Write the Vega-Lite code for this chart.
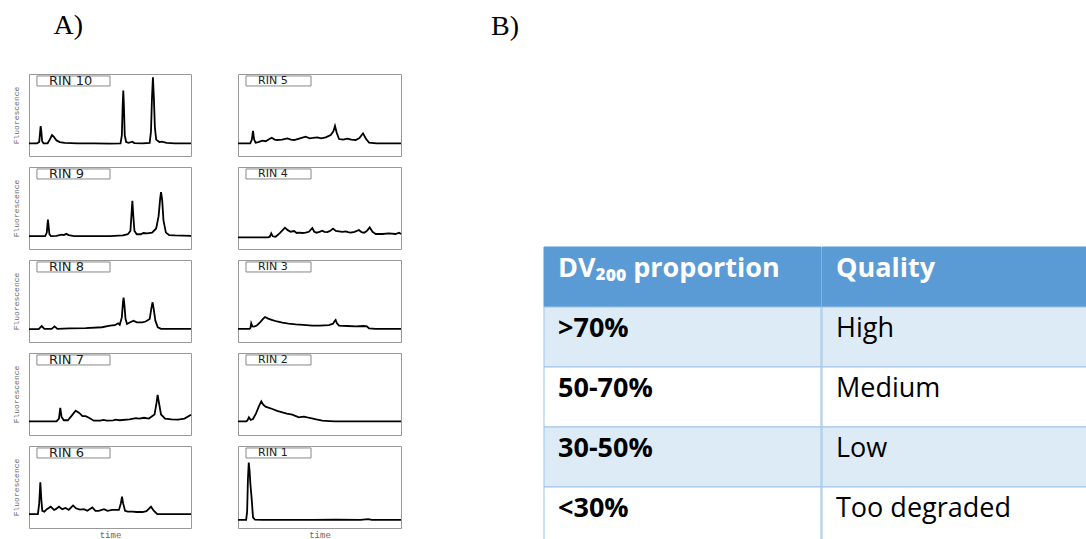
{
  "$schema": "https://vega.github.io/schema/vega-lite/v6.json",
  "background": "white",
  "padding": {"left": 11, "top": 12, "right": 0, "bottom": 0},
  "bounds": "full",
  "spacing": 85,
  "config": {
    "view": {"stroke": "#999999", "strokeWidth": 1},
    "axis": {"domain": false, "ticks": false, "labels": false, "grid": false, "titleFont": "Liberation Mono", "titleFontWeight": "normal", "titleColor": "#666666", "minExtent": 0},
    "axisLeft": {"titleFontSize": 8, "titlePadding": 9},
    "axisBottom": {"titleFontSize": 9, "titlePadding": 2},
    "line": {"color": "#000000", "strokeWidth": 1.8}
  },
  "datasets": {
    "rin10": [{"t":0,"f":15.5},{"t":5,"f":15.5},{"t":6.3,"f":17},{"t":6.9,"f":30},{"t":7.2,"f":36.6},{"t":7.6,"f":30},{"t":8.1,"f":18},{"t":9,"f":15.5},{"t":11.5,"f":15.5},{"t":12.8,"f":20},{"t":14.2,"f":25.5},{"t":15.5,"f":23},{"t":17,"f":19},{"t":19,"f":17},{"t":22,"f":16},{"t":30,"f":15.5},{"t":40,"f":15.5},{"t":50,"f":15.2},{"t":56.5,"f":15.5},{"t":57.3,"f":25},{"t":57.8,"f":60},{"t":58.2,"f":79.7},{"t":58.6,"f":60},{"t":59.1,"f":25},{"t":60,"f":17},{"t":61.5,"f":16},{"t":63.8,"f":17.5},{"t":65,"f":15.8},{"t":70,"f":15.5},{"t":74.5,"f":16},{"t":75.3,"f":30},{"t":75.9,"f":70},{"t":76.5,"f":96},{"t":77.1,"f":70},{"t":77.7,"f":35},{"t":78.5,"f":20},{"t":80.5,"f":17},{"t":82,"f":17.5},{"t":85,"f":16},{"t":90,"f":15.5},{"t":100,"f":15.5}],
    "rin9": [{"t":0,"f":15.8},{"t":10,"f":15.8},{"t":11,"f":20},{"t":11.4,"f":30},{"t":11.7,"f":36},{"t":12.1,"f":28},{"t":12.6,"f":18},{"t":13.5,"f":15.8},{"t":17,"f":16},{"t":20,"f":17.5},{"t":21.5,"f":17},{"t":23,"f":18.5},{"t":24.5,"f":17},{"t":28,"f":15.8},{"t":40,"f":15.8},{"t":50,"f":15.8},{"t":58,"f":16.5},{"t":61,"f":18},{"t":62.6,"f":22},{"t":63.2,"f":40},{"t":63.8,"f":58.9},{"t":64.4,"f":40},{"t":65.1,"f":22},{"t":66.5,"f":18},{"t":69,"f":18},{"t":70.6,"f":19.5},{"t":73,"f":19},{"t":76,"f":20},{"t":78.5,"f":25},{"t":80,"f":40},{"t":81,"f":62},{"t":81.5,"f":69.5},{"t":82.2,"f":60},{"t":83,"f":35},{"t":84.5,"f":20},{"t":86.5,"f":17},{"t":90,"f":16.5},{"t":100,"f":16}],
    "rin8": [{"t":0,"f":15.8},{"t":6,"f":15.8},{"t":7.8,"f":19.5},{"t":9.5,"f":16},{"t":14,"f":16},{"t":15.8,"f":19},{"t":17.5,"f":16},{"t":25,"f":16.5},{"t":35,"f":17},{"t":45,"f":18},{"t":50,"f":20},{"t":53,"f":20.5},{"t":55,"f":22.8},{"t":56,"f":21},{"t":57.3,"f":30},{"t":58,"f":48},{"t":58.4,"f":54},{"t":58.9,"f":45},{"t":59.6,"f":28},{"t":60.5,"f":22},{"t":62.5,"f":24},{"t":64.5,"f":26},{"t":66.5,"f":24},{"t":70,"f":24},{"t":72,"f":25},{"t":74.5,"f":28},{"t":75.6,"f":42},{"t":76.3,"f":48.4},{"t":77,"f":40},{"t":78,"f":26},{"t":79.5,"f":18},{"t":81.5,"f":16},{"t":90,"f":16},{"t":100,"f":16}],
    "rin7": [{"t":0,"f":16.7},{"t":10,"f":16.7},{"t":17,"f":16.7},{"t":18.5,"f":20},{"t":19.3,"f":33},{"t":20.1,"f":22},{"t":21.5,"f":18},{"t":24,"f":18},{"t":26.5,"f":24},{"t":28.8,"f":29.6},{"t":31,"f":27},{"t":33,"f":23},{"t":35,"f":23},{"t":37,"f":21},{"t":40,"f":17.5},{"t":44,"f":17.5},{"t":46,"f":18.5},{"t":48,"f":17.5},{"t":52,"f":17.8},{"t":53.5,"f":18.7},{"t":56,"f":18},{"t":62,"f":19},{"t":66,"f":20.5},{"t":68,"f":20},{"t":71,"f":21},{"t":74,"f":20},{"t":77.5,"f":25},{"t":78.8,"f":40},{"t":79.4,"f":49},{"t":80,"f":42},{"t":81.5,"f":25},{"t":84,"f":20},{"t":88,"f":19},{"t":92,"f":18.8},{"t":96,"f":20},{"t":100,"f":24.8}],
    "rin6": [{"t":0,"f":17},{"t":5.5,"f":17},{"t":6.3,"f":30},{"t":7,"f":55.7},{"t":7.6,"f":35},{"t":8.2,"f":21},{"t":9.5,"f":20},{"t":11,"f":23},{"t":13.4,"f":26},{"t":15.5,"f":22},{"t":16.5,"f":23},{"t":18.5,"f":26},{"t":20.5,"f":23},{"t":22.6,"f":24.5},{"t":24.5,"f":22},{"t":27.2,"f":27.5},{"t":29,"f":24},{"t":31.5,"f":22.5},{"t":33.9,"f":23},{"t":36,"f":21},{"t":39.1,"f":25},{"t":41,"f":21},{"t":43,"f":21},{"t":46.3,"f":23},{"t":48.5,"f":21},{"t":51.4,"f":22},{"t":55.5,"f":22},{"t":56.7,"f":30},{"t":57.4,"f":38.2},{"t":58.1,"f":30},{"t":59.3,"f":21},{"t":61,"f":20},{"t":63.8,"f":20},{"t":66.5,"f":19.5},{"t":70,"f":19.5},{"t":72.5,"f":20.5},{"t":75.3,"f":26},{"t":77,"f":21},{"t":79.2,"f":17},{"t":85,"f":17},{"t":100,"f":17}],
    "rin5": [{"t":0,"f":15.5},{"t":7.5,"f":15.5},{"t":8.5,"f":20},{"t":9.2,"f":30.5},{"t":9.9,"f":20},{"t":10.8,"f":16.3},{"t":12.5,"f":17},{"t":14.9,"f":18.7},{"t":17,"f":18},{"t":19,"f":20.5},{"t":20.7,"f":22.3},{"t":22.5,"f":20},{"t":24.1,"f":19.5},{"t":27,"f":20},{"t":30.3,"f":21.5},{"t":32.5,"f":20},{"t":34.4,"f":19.5},{"t":37,"f":21},{"t":39,"f":22},{"t":41.5,"f":23.6},{"t":44,"f":21.5},{"t":46,"f":22},{"t":48.7,"f":22.8},{"t":51,"f":21.5},{"t":53.8,"f":22.8},{"t":56.9,"f":25.6},{"t":58.5,"f":30},{"t":59.5,"f":36.6},{"t":60.6,"f":28},{"t":62,"f":20.7},{"t":64.5,"f":20},{"t":67.1,"f":21.1},{"t":69.5,"f":20},{"t":72.2,"f":19.5},{"t":74.5,"f":22},{"t":76.7,"f":27.7},{"t":78.5,"f":21},{"t":80.4,"f":16.3},{"t":85,"f":15.5},{"t":100,"f":15.5}],
    "rin4": [{"t":0,"f":14.2},{"t":18.5,"f":14.2},{"t":19.5,"f":15},{"t":20.4,"f":19.1},{"t":21.3,"f":15.5},{"t":23.1,"f":15},{"t":25.5,"f":19},{"t":28.8,"f":26},{"t":30.5,"f":23},{"t":32.3,"f":21.1},{"t":34.4,"f":21.9},{"t":36,"f":19.5},{"t":37.4,"f":19.9},{"t":39.5,"f":19.5},{"t":41.5,"f":19.9},{"t":43.5,"f":21},{"t":45.6,"f":25.6},{"t":46.8,"f":21},{"t":48.1,"f":19.9},{"t":50,"f":21},{"t":51.7,"f":22.4},{"t":53,"f":21},{"t":54.8,"f":20.7},{"t":56.5,"f":22},{"t":58.3,"f":24.8},{"t":60,"f":22},{"t":61.9,"f":21.5},{"t":64,"f":21},{"t":66,"f":21.5},{"t":67.5,"f":20.5},{"t":69.1,"f":19.9},{"t":71.5,"f":21},{"t":74.2,"f":23.2},{"t":75.8,"f":20.5},{"t":77.3,"f":19.9},{"t":79,"f":22},{"t":80.8,"f":26.4},{"t":82.5,"f":21},{"t":84.5,"f":18.3},{"t":88.6,"f":18.3},{"t":92.6,"f":19.1},{"t":96.7,"f":18.3},{"t":98.8,"f":19.9},{"t":100,"f":18.3}],
    "rin3": [{"t":0,"f":15.9},{"t":7,"f":15.9},{"t":7.6,"f":17},{"t":8.1,"f":22.8},{"t":8.8,"f":19},{"t":9.8,"f":18.7},{"t":11.5,"f":20},{"t":13.5,"f":24},{"t":15.5,"f":28.5},{"t":16.6,"f":30.5},{"t":18.5,"f":28.5},{"t":21.1,"f":26.8},{"t":24,"f":25},{"t":27.2,"f":23.6},{"t":31,"f":22.5},{"t":35.4,"f":21.5},{"t":40,"f":21},{"t":45.6,"f":19.9},{"t":50,"f":20},{"t":55.8,"f":20.7},{"t":58.3,"f":22.4},{"t":59.3,"f":25.5},{"t":59.9,"f":26.8},{"t":60.6,"f":23},{"t":62,"f":19.9},{"t":67,"f":19.5},{"t":72.2,"f":19.1},{"t":77.3,"f":19.5},{"t":79,"f":19},{"t":80.4,"f":16.7},{"t":84.5,"f":15.9},{"t":100,"f":15.9}],
    "rin2": [{"t":0,"f":16.7},{"t":5,"f":16.7},{"t":5.7,"f":17.5},{"t":6.7,"f":21.5},{"t":7.8,"f":18.3},{"t":9.2,"f":19.5},{"t":11,"f":26},{"t":12.8,"f":35},{"t":14.3,"f":41},{"t":15.5,"f":37},{"t":16.9,"f":34.6},{"t":21.1,"f":31.7},{"t":24,"f":29.5},{"t":27.2,"f":27.6},{"t":30,"f":26},{"t":33.3,"f":24.8},{"t":35.5,"f":23},{"t":37.4,"f":21.5},{"t":39,"f":22},{"t":40.5,"f":22.4},{"t":42.5,"f":21.5},{"t":44.6,"f":20.7},{"t":48,"f":19},{"t":51.7,"f":17.5},{"t":56,"f":17},{"t":59.9,"f":16.7},{"t":100,"f":16.7}],
    "rin1": [{"t":0,"f":9.8},{"t":5,"f":9.8},{"t":5.6,"f":20},{"t":6.1,"f":60},{"t":6.6,"f":79.7},{"t":7.1,"f":70},{"t":7.6,"f":53.7},{"t":8.2,"f":40},{"t":8.6,"f":30},{"t":9.2,"f":13},{"t":10.4,"f":10.2},{"t":15,"f":9.8},{"t":30,"f":10},{"t":45,"f":9.8},{"t":60,"f":10.2},{"t":75,"f":9.8},{"t":80,"f":10.8},{"t":82,"f":9.8},{"t":100,"f":10}],
    "dv200": [
      {"row": 0, "range": "DV₂₀₀ proportion", "quality": "Quality"},
      {"row": 1, "range": ">70%", "quality": "High"},
      {"row": 2, "range": "50-70%", "quality": "Medium"},
      {"row": 3, "range": "30-50%", "quality": "Low"},
      {"row": 4, "range": "<30%", "quality": "Too degraded"}
    ]
  },
  "hconcat": [
    {
      "title": {"text": "A)", "anchor": "start", "orient": "top", "baseline": "alphabetic", "offset": 11, "dx": 42, "font": "Liberation Serif", "fontSize": 28, "fontWeight": "normal", "color": "#000000"},
      "bounds": "full",
      "spacing": 37,
      "hconcat": [
        {
          "bounds": "full",
          "spacing": 9,
          "vconcat": [
            {"width": 162, "height": 82, "layer": [
              {"data": {"name": "rin10"}, "mark": {"type": "line"}, "encoding": {"x": {"field": "t", "type": "quantitative", "scale": {"domain": [0, 100]}, "axis": null}, "y": {"field": "f", "type": "quantitative", "scale": {"domain": [0, 100]}, "axis": {"title": "Fluorescence"}}}},
              {"data": {"values": [{"label": "RIN 10"}]}, "mark": {"type": "rect", "fill": "white", "stroke": "#888888", "strokeWidth": 1}, "encoding": {"x": {"datum": 4.9}, "x2": {"datum": 50}, "y": {"datum": 97.6}, "y2": {"datum": 85.4}}},
              {"data": {"values": [{"label": "RIN 10"}]}, "mark": {"type": "text", "align": "left", "baseline": "middle", "font": "DejaVu Sans", "fontSize": 13, "color": "#222222"}, "encoding": {"x": {"datum": 12.3}, "y": {"datum": 91.5}, "text": {"field": "label"}}}
            ]},
            {"width": 162, "height": 82, "layer": [
              {"data": {"name": "rin9"}, "mark": {"type": "line"}, "encoding": {"x": {"field": "t", "type": "quantitative", "scale": {"domain": [0, 100]}, "axis": null}, "y": {"field": "f", "type": "quantitative", "scale": {"domain": [0, 100]}, "axis": {"title": "Fluorescence"}}}},
              {"data": {"values": [{"label": "RIN 9"}]}, "mark": {"type": "rect", "fill": "white", "stroke": "#888888", "strokeWidth": 1}, "encoding": {"x": {"datum": 4.9}, "x2": {"datum": 50}, "y": {"datum": 97.6}, "y2": {"datum": 85.4}}},
              {"data": {"values": [{"label": "RIN 9"}]}, "mark": {"type": "text", "align": "left", "baseline": "middle", "font": "DejaVu Sans", "fontSize": 13, "color": "#222222"}, "encoding": {"x": {"datum": 12.3}, "y": {"datum": 91.5}, "text": {"field": "label"}}}
            ]},
            {"width": 162, "height": 82, "layer": [
              {"data": {"name": "rin8"}, "mark": {"type": "line"}, "encoding": {"x": {"field": "t", "type": "quantitative", "scale": {"domain": [0, 100]}, "axis": null}, "y": {"field": "f", "type": "quantitative", "scale": {"domain": [0, 100]}, "axis": {"title": "Fluorescence"}}}},
              {"data": {"values": [{"label": "RIN 8"}]}, "mark": {"type": "rect", "fill": "white", "stroke": "#888888", "strokeWidth": 1}, "encoding": {"x": {"datum": 4.9}, "x2": {"datum": 50}, "y": {"datum": 97.6}, "y2": {"datum": 85.4}}},
              {"data": {"values": [{"label": "RIN 8"}]}, "mark": {"type": "text", "align": "left", "baseline": "middle", "font": "DejaVu Sans", "fontSize": 13, "color": "#222222"}, "encoding": {"x": {"datum": 12.3}, "y": {"datum": 91.5}, "text": {"field": "label"}}}
            ]},
            {"width": 162, "height": 82, "layer": [
              {"data": {"name": "rin7"}, "mark": {"type": "line"}, "encoding": {"x": {"field": "t", "type": "quantitative", "scale": {"domain": [0, 100]}, "axis": null}, "y": {"field": "f", "type": "quantitative", "scale": {"domain": [0, 100]}, "axis": {"title": "Fluorescence"}}}},
              {"data": {"values": [{"label": "RIN 7"}]}, "mark": {"type": "rect", "fill": "white", "stroke": "#888888", "strokeWidth": 1}, "encoding": {"x": {"datum": 4.9}, "x2": {"datum": 50}, "y": {"datum": 97.6}, "y2": {"datum": 85.4}}},
              {"data": {"values": [{"label": "RIN 7"}]}, "mark": {"type": "text", "align": "left", "baseline": "middle", "font": "DejaVu Sans", "fontSize": 13, "color": "#222222"}, "encoding": {"x": {"datum": 12.3}, "y": {"datum": 91.5}, "text": {"field": "label"}}}
            ]},
            {"width": 162, "height": 82, "layer": [
              {"data": {"name": "rin6"}, "mark": {"type": "line"}, "encoding": {"x": {"field": "t", "type": "quantitative", "scale": {"domain": [0, 100]}, "axis": {"title": "time"}}, "y": {"field": "f", "type": "quantitative", "scale": {"domain": [0, 100]}, "axis": {"title": "Fluorescence"}}}},
              {"data": {"values": [{"label": "RIN 6"}]}, "mark": {"type": "rect", "fill": "white", "stroke": "#888888", "strokeWidth": 1}, "encoding": {"x": {"datum": 4.9}, "x2": {"datum": 50}, "y": {"datum": 97.6}, "y2": {"datum": 85.4}}},
              {"data": {"values": [{"label": "RIN 6"}]}, "mark": {"type": "text", "align": "left", "baseline": "middle", "font": "DejaVu Sans", "fontSize": 13, "color": "#222222"}, "encoding": {"x": {"datum": 12.3}, "y": {"datum": 91.5}, "text": {"field": "label"}}}
            ]}
          ]
        },
        {
          "bounds": "full",
          "spacing": 9,
          "vconcat": [
            {"width": 163, "height": 82, "layer": [
              {"data": {"name": "rin5"}, "mark": {"type": "line"}, "encoding": {"x": {"field": "t", "type": "quantitative", "scale": {"domain": [0, 100]}, "axis": null}, "y": {"field": "f", "type": "quantitative", "scale": {"domain": [0, 100]}, "axis": null}}},
              {"data": {"values": [{"label": "RIN 5"}]}, "mark": {"type": "rect", "fill": "white", "stroke": "#888888", "strokeWidth": 1}, "encoding": {"x": {"datum": 4.9}, "x2": {"datum": 44.8}, "y": {"datum": 97.6}, "y2": {"datum": 85.4}}},
              {"data": {"values": [{"label": "RIN 5"}]}, "mark": {"type": "text", "align": "left", "baseline": "middle", "font": "DejaVu Sans", "fontSize": 11, "color": "#222222"}, "encoding": {"x": {"datum": 12.3}, "y": {"datum": 91.5}, "text": {"field": "label"}}}
            ]},
            {"width": 163, "height": 82, "layer": [
              {"data": {"name": "rin4"}, "mark": {"type": "line"}, "encoding": {"x": {"field": "t", "type": "quantitative", "scale": {"domain": [0, 100]}, "axis": null}, "y": {"field": "f", "type": "quantitative", "scale": {"domain": [0, 100]}, "axis": null}}},
              {"data": {"values": [{"label": "RIN 4"}]}, "mark": {"type": "rect", "fill": "white", "stroke": "#888888", "strokeWidth": 1}, "encoding": {"x": {"datum": 4.9}, "x2": {"datum": 44.8}, "y": {"datum": 97.6}, "y2": {"datum": 85.4}}},
              {"data": {"values": [{"label": "RIN 4"}]}, "mark": {"type": "text", "align": "left", "baseline": "middle", "font": "DejaVu Sans", "fontSize": 11, "color": "#222222"}, "encoding": {"x": {"datum": 12.3}, "y": {"datum": 91.5}, "text": {"field": "label"}}}
            ]},
            {"width": 163, "height": 82, "layer": [
              {"data": {"name": "rin3"}, "mark": {"type": "line"}, "encoding": {"x": {"field": "t", "type": "quantitative", "scale": {"domain": [0, 100]}, "axis": null}, "y": {"field": "f", "type": "quantitative", "scale": {"domain": [0, 100]}, "axis": null}}},
              {"data": {"values": [{"label": "RIN 3"}]}, "mark": {"type": "rect", "fill": "white", "stroke": "#888888", "strokeWidth": 1}, "encoding": {"x": {"datum": 4.9}, "x2": {"datum": 44.8}, "y": {"datum": 97.6}, "y2": {"datum": 85.4}}},
              {"data": {"values": [{"label": "RIN 3"}]}, "mark": {"type": "text", "align": "left", "baseline": "middle", "font": "DejaVu Sans", "fontSize": 11, "color": "#222222"}, "encoding": {"x": {"datum": 12.3}, "y": {"datum": 91.5}, "text": {"field": "label"}}}
            ]},
            {"width": 163, "height": 82, "layer": [
              {"data": {"name": "rin2"}, "mark": {"type": "line"}, "encoding": {"x": {"field": "t", "type": "quantitative", "scale": {"domain": [0, 100]}, "axis": null}, "y": {"field": "f", "type": "quantitative", "scale": {"domain": [0, 100]}, "axis": null}}},
              {"data": {"values": [{"label": "RIN 2"}]}, "mark": {"type": "rect", "fill": "white", "stroke": "#888888", "strokeWidth": 1}, "encoding": {"x": {"datum": 4.9}, "x2": {"datum": 44.8}, "y": {"datum": 97.6}, "y2": {"datum": 85.4}}},
              {"data": {"values": [{"label": "RIN 2"}]}, "mark": {"type": "text", "align": "left", "baseline": "middle", "font": "DejaVu Sans", "fontSize": 11, "color": "#222222"}, "encoding": {"x": {"datum": 12.3}, "y": {"datum": 91.5}, "text": {"field": "label"}}}
            ]},
            {"width": 163, "height": 82, "layer": [
              {"data": {"name": "rin1"}, "mark": {"type": "line"}, "encoding": {"x": {"field": "t", "type": "quantitative", "scale": {"domain": [0, 100]}, "axis": {"title": "time"}}, "y": {"field": "f", "type": "quantitative", "scale": {"domain": [0, 100]}, "axis": null}}},
              {"data": {"values": [{"label": "RIN 1"}]}, "mark": {"type": "rect", "fill": "white", "stroke": "#888888", "strokeWidth": 1}, "encoding": {"x": {"datum": 4.9}, "x2": {"datum": 44.8}, "y": {"datum": 97.6}, "y2": {"datum": 85.4}}},
              {"data": {"values": [{"label": "RIN 1"}]}, "mark": {"type": "text", "align": "left", "baseline": "middle", "font": "DejaVu Sans", "fontSize": 11, "color": "#222222"}, "encoding": {"x": {"datum": 12.3}, "y": {"datum": 91.5}, "text": {"field": "label"}}}
            ]}
          ]
        }
      ]
    },
    {
      "title": {"text": "B)", "anchor": "start", "orient": "top", "baseline": "alphabetic", "offset": 11, "dx": -52.5, "font": "Liberation Serif", "fontSize": 28, "fontWeight": "normal", "color": "#000000"},
      "bounds": "full",
      "spacing": -1,
      "hconcat": [
        {
          "width": 277, "height": 473, "view": {"stroke": null},
          "data": {"name": "dv200"},
          "encoding": {"y": {"field": "row", "type": "ordinal", "axis": null, "scale": {"range": [173, 473], "paddingInner": 0, "paddingOuter": 0}}},
          "layer": [
            {"mark": {"type": "rect", "strokeWidth": 1},
             "encoding": {
               "fill": {"condition": [{"test": "datum.row === 0", "value": "#5B9BD5"}, {"test": "datum.row % 2 === 1", "value": "#DDEBF7"}], "value": "#FFFFFF"},
               "stroke": {"condition": {"test": "datum.row === 0", "value": "#5B9BD5"}, "value": "#9DC3E6"}
             }},
            {"mark": {"type": "text", "align": "left", "baseline": "middle", "dx": 14, "font": "Open Sans", "fontSize": 27, "fontWeight": "bold"},
             "encoding": {
               "x": {"datum": 0, "type": "quantitative", "scale": {"domain": [0, 1]}, "axis": null},
               "y": {"field": "row", "type": "ordinal", "bandPosition": 0.36},
               "text": {"field": "range"},
               "color": {"condition": {"test": "datum.row === 0", "value": "#FFFFFF"}, "value": "#000000"}
             }}
          ]
        },
        {
          "width": 265, "height": 473, "view": {"stroke": null},
          "data": {"name": "dv200"},
          "encoding": {"y": {"field": "row", "type": "ordinal", "axis": null, "scale": {"range": [173, 473], "paddingInner": 0, "paddingOuter": 0}}},
          "layer": [
            {"mark": {"type": "rect", "strokeWidth": 1},
             "encoding": {
               "fill": {"condition": [{"test": "datum.row === 0", "value": "#5B9BD5"}, {"test": "datum.row % 2 === 1", "value": "#DDEBF7"}], "value": "#FFFFFF"},
               "stroke": {"condition": {"test": "datum.row === 0", "value": "#5B9BD5"}, "value": "#9DC3E6"}
             }},
            {"transform": [{"filter": "datum.row === 0"}],
             "mark": {"type": "text", "align": "left", "baseline": "middle", "dx": 14, "font": "Open Sans", "fontSize": 27, "fontWeight": "bold", "color": "#FFFFFF"},
             "encoding": {
               "x": {"datum": 0, "type": "quantitative", "scale": {"domain": [0, 1]}, "axis": null},
               "y": {"field": "row", "type": "ordinal", "bandPosition": 0.36},
               "text": {"field": "quality"}
             }},
            {"transform": [{"filter": "datum.row > 0"}],
             "mark": {"type": "text", "align": "left", "baseline": "middle", "dx": 14, "font": "Open Sans", "fontSize": 27, "fontWeight": "normal", "color": "#000000"},
             "encoding": {
               "x": {"datum": 0, "type": "quantitative", "scale": {"domain": [0, 1]}, "axis": null},
               "y": {"field": "row", "type": "ordinal", "bandPosition": 0.36},
               "text": {"field": "quality"}
             }}
          ]
        }
      ]
    }
  ]
}
